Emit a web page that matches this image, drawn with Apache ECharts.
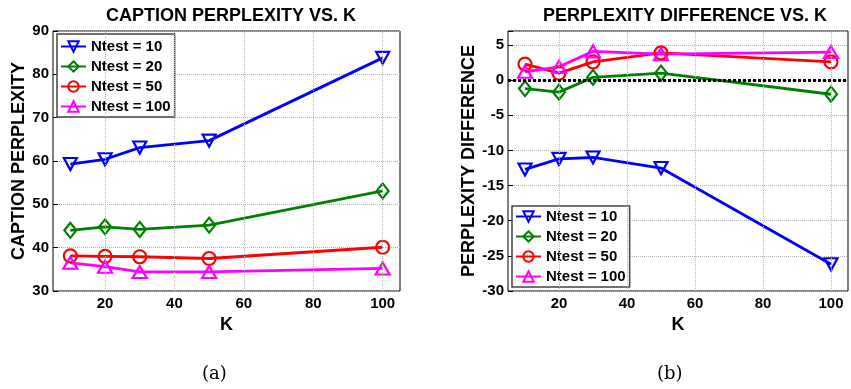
<!DOCTYPE html>
<html>
<head>
<meta charset="utf-8">
<script src="https://cdn.jsdelivr.net/npm/echarts@6/dist/echarts.min.js"></script>
<style>
  html, body { margin: 0; padding: 0; background: #fff; }
  #chart { width: 851px; height: 389px; }
</style>
</head>
<body>
<div id="chart"></div>
<script>
const kValues = [10, 20, 30, 50, 100];
const seriesNames = ['Ntest = 10', 'Ntest = 20', 'Ntest = 50', 'Ntest = 100'];
const seriesColors = ['#0000ff', '#008000', '#ff0000', '#ff00ff'];

// (a) caption perplexity
const perplexity10 = [59.3, 60.4, 63.1, 64.7, 83.8];
const perplexity20 = [44.0, 44.8, 44.2, 45.2, 53.1];
const perplexity50 = [38.1, 38.0, 37.9, 37.5, 40.1];
const perplexity100 = [36.5, 35.6, 34.4, 34.4, 35.2];

// (b) perplexity difference
const diff10 = [-12.7, -11.2, -11.0, -12.5, -26.2];
const diff20 = [-1.2, -1.7, 0.4, 1.0, -2.0];
const diff50 = [2.3, 1.0, 2.6, 3.9, 2.6];
const diff100 = [1.2, 1.9, 4.1, 3.7, 4.0];

const xTicks = [20, 40, 60, 80, 100];

const FONT = 'Liberation Sans';
const markers = [
  { symbol: 'path://M0,0L10,0L5,9Z', size: [13, 12] },
  { symbol: 'diamond', size: [12, 15] },
  { symbol: 'circle', size: 13 },
  { symbol: 'triangle', size: [14, 12] },
];

const chart = echarts.init(document.getElementById('chart'), null, { renderer: 'canvas' });

function makeSeries(values, idx, gridIdx) {
  return {
    name: seriesNames[idx],
    type: 'line',
    xAxisIndex: gridIdx,
    yAxisIndex: gridIdx,
    data: kValues.map((k, i) => [k, values[i]]),
    symbol: markers[idx].symbol,
    symbolSize: markers[idx].size,
    showAllSymbol: true,
    lineStyle: { color: seriesColors[idx], width: 2.8 },
    itemStyle: { color: 'rgba(255,255,255,0)', borderColor: seriesColors[idx], borderWidth: 2.2 },
    emphasis: { disabled: true },
    animation: false,
    z: 3,
  };
}

// dotted vertical grid lines at the labelled K ticks (plus extra lines)
function gridLines(gridIdx, extra) {
  const data = xTicks.map((x) => ({ xAxis: x }));
  return {
    type: 'line',
    xAxisIndex: gridIdx,
    yAxisIndex: gridIdx,
    data: [],
    z: 1,
    silent: true,
    animation: false,
    markLine: {
      silent: true,
      symbol: 'none',
      label: { show: false },
      animation: false,
      lineStyle: { color: '#b5b5b5', type: 'dotted', width: 1 },
      data: data.concat(extra || []),
    },
  };
}

function xAxis(gridIdx) {
  return {
    type: 'value',
    gridIndex: gridIdx,
    min: 5,
    max: 105,
    interval: 5,
    name: 'K',
    nameLocation: 'middle',
    nameGap: 24,
    nameTextStyle: { fontFamily: FONT, fontWeight: 'bold', fontSize: 18, color: '#000' },
    axisLine: { show: false },
    axisTick: { show: false },
    splitLine: { show: false },
    axisLabel: {
      margin: 5,
      fontFamily: FONT, fontWeight: 'bold', fontSize: 15, color: '#000',
      formatter: (v) => (xTicks.indexOf(v) >= 0 ? String(v) : ''),
    },
  };
}

function yAxis(gridIdx, opts) {
  return Object.assign({
    type: 'value',
    gridIndex: gridIdx,
    nameLocation: 'middle',
    nameTextStyle: { fontFamily: FONT, fontWeight: 'bold', fontSize: 18, color: '#000' },
    axisLine: { show: false },
    axisTick: { show: true, inside: true, length: 5, lineStyle: { color: '#000' } },
    splitLine: { show: true, lineStyle: { color: '#b5b5b5', type: 'dotted', width: 1 } },
  }, opts);
}

const legendBase = {
  orient: 'vertical',
  data: seriesNames,
  backgroundColor: '#fff',
  borderColor: '#444',
  borderWidth: 1.5,
  itemWidth: 25,
  itemHeight: 13,
  itemGap: 5,
  itemStyle: { borderWidth: 2 },
  textStyle: { fontFamily: FONT, fontWeight: 'bold', fontSize: 15, color: '#000' },
  selectedMode: false,
};

const option = {
  backgroundColor: '#fff',
  animation: false,
  title: [
    { text: 'CAPTION PERPLEXITY VS. K', left: 226, top: 2, textAlign: 'center',
      textStyle: { fontFamily: FONT, fontWeight: 'bold', fontSize: 18, color: '#000' } },
    { text: 'PERPLEXITY DIFFERENCE VS. K', left: 680, top: 2, textAlign: 'center',
      textStyle: { fontFamily: FONT, fontWeight: 'bold', fontSize: 18, color: '#000' } },
  ],
  legend: [
    Object.assign({ left: 57, top: 34, padding: [5, 4, 3, 3] }, legendBase),
    Object.assign({ left: 512, top: 206, padding: [3, 4, 3, 3] }, legendBase),
  ],
  grid: [
    { left: 53, top: 31, width: 347, height: 260, show: true, borderColor: '#000', borderWidth: 1, backgroundColor: '#fff' },
    { left: 508, top: 31, width: 345, height: 260, show: true, borderColor: '#000', borderWidth: 1, backgroundColor: '#fff' },
  ],
  xAxis: [xAxis(0), xAxis(1)],
  yAxis: [
    yAxis(0, {
      min: 30, max: 90, interval: 10,
      name: 'CAPTION PERPLEXITY', nameGap: 23,
      axisLabel: { margin: 4, fontFamily: FONT, fontWeight: 'bold', fontSize: 15, color: '#000' },
    }),
    yAxis(1, {
      min: -30, max: 7, interval: 5,
      name: 'PERPLEXITY DIFFERENCE', nameGap: 29,
      axisLabel: {
        margin: 4, fontFamily: FONT, fontWeight: 'bold', fontSize: 15, color: '#000',
        formatter: (v) => (v % 5 === 0 ? String(v) : ''),
      },
    }),
  ],
  graphic: [
    { type: 'text', left: 202, top: 365, style: { text: '(a)', font: '18px "DejaVu Serif"', fill: '#000' } },
    { type: 'text', left: 657, top: 365, style: { text: '(b)', font: '18px "DejaVu Serif"', fill: '#000' } },
  ],
  series: [
    gridLines(0),
    gridLines(1, [{ yAxis: 0, lineStyle: { color: '#000', type: [3, 2], width: 3 } }]),
    makeSeries(perplexity10, 0, 0),
    makeSeries(perplexity20, 1, 0),
    makeSeries(perplexity50, 2, 0),
    makeSeries(perplexity100, 3, 0),
    makeSeries(diff10, 0, 1),
    makeSeries(diff20, 1, 1),
    makeSeries(diff50, 2, 1),
    makeSeries(diff100, 3, 1),
  ],
};

chart.setOption(option);
</script>
</body>
</html>
